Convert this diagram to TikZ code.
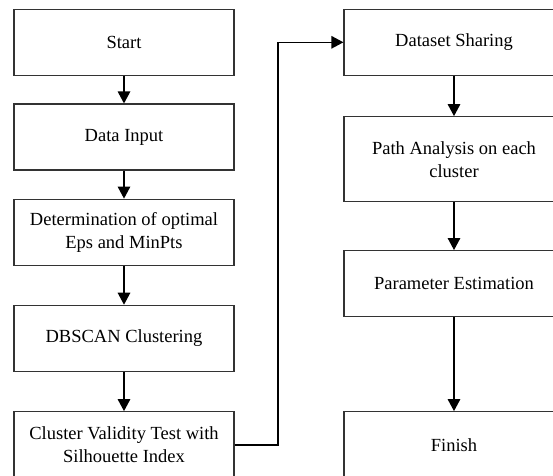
\documentclass[tikz,border=0pt]{standalone}
\usepackage{fontspec}
\setmainfont{Liberation Serif}
\usetikzlibrary{arrows.meta}
\begin{document}
\begin{tikzpicture}[x=1pt,y=1pt,
  box/.style={draw=black!80, line width=1.2pt, minimum width=220pt, inner sep=0pt,
    align=center, font=\fontsize{18.5}{23}\selectfont},
  arr/.style={draw=black, line width=1.4pt, -{Triangle[width=12.5pt,length=12pt]}}]
\useasboundingbox (0,0) rectangle (553,-475);
\clip (0,0) rectangle (553,-475);
\fill[white] (0,0) rectangle (553,-475);
% left column
\node[box, minimum height=66pt] (start) at (124,-42.3) {Start};
\node[box, minimum height=66pt] (input) at (124,-137) {Data Input};
\node[box, minimum height=66pt] (det) at (124,-232.2) {Determination of optimal\\Eps and MinPts};
\node[box, minimum height=66pt] (db) at (124,-338.3) {DBSCAN Clustering};
\node[box, minimum height=66.6pt] (cv) at (124,-445) {Cluster Validity Test with\\Silhouette Index};
% right column
\node[box, minimum height=66pt] (ds) at (454,-42.3) {Dataset Sharing};
\node[box, minimum height=85pt] (pa) at (454,-159.2) {Path Analysis on each\\cluster};
\node[box, minimum height=65.5pt] (pe) at (454,-283.4) {Parameter Estimation};
\node[box, minimum height=66.6pt] (fin) at (454,-445) {Finish};
\coordinate (bend) at (278,-445);
% connectors
\draw[arr] (start) -- (input);
\draw[arr] (input) -- (det);
\draw[arr] (det) -- (db);
\draw[arr] (db) -- (cv);
\draw[arr] (cv.east) -- (bend) |- (ds.west);
\draw[arr] (ds) -- (pa);
\draw[arr] (pa) -- (pe);
\draw[arr] (pe) -- (fin);
\end{tikzpicture}
\end{document}
